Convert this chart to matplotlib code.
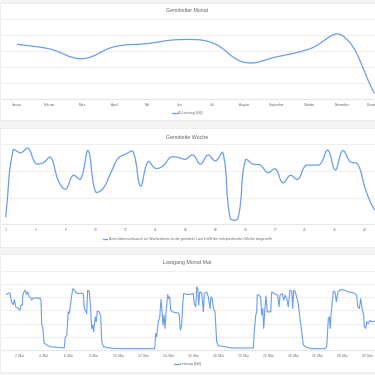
import matplotlib

matplotlib.use("Agg")
import matplotlib.pyplot as plt
import numpy as np
from matplotlib.lines import Line2D
from matplotlib.patches import PathPatch, Rectangle
from matplotlib.path import Path

plt.rcParams["font.family"] = ["Liberation Sans", "DejaVu Sans"]

LINE_COLOR = "#6a9ef0"
GRID_COLOR = "#ececec"
AXIS_COLOR = "#e2e6ee"
TEXT_COLOR = "#666666"

# --- Gemittelter Monat ---
monate = ["Januar", "Februar", "März", "April", "Mai", "Juni", "Juli",
          "August", "September", "Oktober", "November", "Dezember"]
monat_kw = [34.2, 31.3, 25.2, 32.7, 34.6, 37.1, 35.2, 22.9, 26.4, 31.3, 39.8, 3.6]

# --- Gemittelte Woche ---
wochen = list(range(1, 53))
woche_kw = [2.6, 27.7, 26.7, 28.4, 22.8, 23.0, 25.0, 16.5, 13.1, 18.3,
            16.9, 27.5, 12.2, 13.4, 19.0, 24.6, 26.2, 27.1, 14.3, 23.4,
            20.9, 21.8, 25.0, 25.0, 24.3, 25.9, 22.5, 25.9, 23.7, 26.7,
            2.2, 2.2, 24.0, 22.5, 22.1, 19.3, 20.7, 15.5, 18.3, 16.8,
            21.8, 22.1, 22.5, 27.7, 20.3, 27.5, 23.4, 22.5, 13.4, 6.6,
            3.5, 2.5]

# --- Lastgang Mai (Tag im Mai, Leistung) ---
mai_tag = [1.00, 1.06, 1.28, 1.42, 1.55, 1.63, 1.74, 1.95, 2.08, 2.16,
           2.27, 2.30, 2.43, 2.51, 2.62, 2.70, 2.83, 2.94, 3.02, 3.15,
           3.43, 3.61, 3.69, 3.77, 3.83, 3.91, 4.01, 4.23, 4.49, 5.03,
           5.56, 5.64, 5.72, 5.84, 5.96, 6.04, 6.12, 6.24, 6.34, 6.45,
           6.58, 6.77, 7.04, 7.17, 7.25, 7.39, 7.44, 7.52, 7.65, 7.76,
           7.84, 7.92, 8.00, 8.13, 8.21, 8.29, 8.45, 8.57, 8.65, 8.78,
           9.05, 9.58, 10.65, 12.87, 12.93, 12.98, 13.06, 13.19, 13.31, 13.41,
           13.49, 13.57, 13.65, 13.73, 13.84, 13.95, 14.03, 14.11, 14.19, 14.32,
           14.53, 14.80, 14.88, 14.96, 15.07, 15.15, 15.23, 15.47, 15.74, 16.00,
           16.08, 16.20, 16.28, 16.36, 16.44, 16.52, 16.68, 16.81, 16.89, 17.08,
           17.21, 17.35, 17.43, 17.53, 17.61, 17.75, 17.88, 18.01, 18.55, 19.09,
           20.82, 20.90, 21.02, 21.10, 21.14, 21.28, 21.42, 21.50, 21.58, 21.66,
           21.76, 21.84, 21.95, 22.08, 22.22, 22.30, 22.51, 22.78, 22.89, 22.97,
           23.15, 23.27, 23.37, 23.51, 23.63, 23.77, 23.91, 23.99, 24.07, 24.17,
           24.31, 24.44, 24.57, 24.71, 24.84, 25.11, 25.51, 26.58, 26.72, 26.85,
           26.93, 27.01, 27.06, 27.17, 27.25, 27.39, 27.49, 27.57, 27.65, 27.92,
           28.19, 28.45, 28.73, 28.99, 29.13, 29.21, 29.34, 29.45, 29.58, 29.69,
           29.74, 29.85, 29.93, 30.06, 30.20, 30.33, 30.60, 31.00]
mai_kw = [41.9, 42.6, 43.0, 35.6, 34.3, 38.0, 32.6, 31.3, 30.0, 33.8,
          33.8, 40.8, 44.4, 45.1, 41.9, 43.8, 40.1, 39.3, 37.6, 39.3,
          39.3, 38.8, 39.3, 37.6, 18.8, 17.5, 5.5, 3.8, 2.5, 2.0,
          1.7, 1.5, 10.0, 10.8, 28.8, 27.5, 32.6, 41.3, 46.4, 45.1,
          43.4, 42.6, 42.8, 42.3, 31.3, 28.8, 27.5, 45.1, 44.4, 31.3,
          16.3, 18.8, 13.8, 25.0, 21.3, 29.3, 28.8, 25.0, 6.3, 2.5,
          1.9, 1.2, 1.0, 1.0, 3.8, 12.5, 10.0, 21.3, 25.0, 38.3,
          30.0, 18.8, 26.3, 16.3, 31.3, 41.9, 38.8, 40.1, 30.0, 28.8,
          28.3, 28.0, 26.3, 15.0, 18.8, 33.8, 42.6, 42.0, 41.9, 42.6,
          35.0, 32.6, 47.6, 46.4, 33.8, 43.8, 43.4, 28.8, 42.6, 43.8,
          40.1, 31.3, 40.1, 38.8, 31.3, 28.8, 6.3, 3.3, 2.5, 1.5,
          1.5, 13.8, 26.3, 28.8, 41.9, 41.3, 40.0, 26.3, 31.3, 16.3,
          31.3, 40.8, 28.8, 28.8, 28.8, 43.8, 42.6, 41.3, 32.6, 41.3,
          42.6, 37.6, 41.3, 38.8, 32.6, 45.1, 44.4, 31.3, 45.1, 44.4,
          40.0, 35.0, 23.8, 13.8, 3.8, 1.9, 1.0, 1.0, 2.5, 23.8,
          25.0, 16.3, 26.3, 36.3, 44.4, 43.8, 36.3, 41.3, 44.4, 45.7,
          45.0, 43.8, 43.4, 42.6, 41.3, 32.6, 31.3, 38.8, 30.0, 26.3,
          17.5, 16.3, 21.3, 20.0, 22.5, 21.3, 21.8, 21.5]
mai_ticks = list(range(2, 31, 2))
mai_labels = [f"{d}. Mai" for d in mai_ticks]

W = H = 375.0


def rect(left_px, top_px, right_px, bottom_px):
    return [left_px / W, 1 - bottom_px / H, (right_px - left_px) / W, (bottom_px - top_px) / H]


def smooth_path(ax, xs, ys, tension=0.4):
    # bezier like Chart.js line tension, computed in display space
    pts = ax.transData.transform(np.column_stack([xs, ys]))
    n = len(pts)
    cp_in, cp_out = [], []
    for i in range(n):
        prev = pts[max(i - 1, 0)]
        cur = pts[i]
        nxt = pts[min(i + 1, n - 1)]
        d01 = np.hypot(*(cur - prev))
        d12 = np.hypot(*(nxt - cur))
        tot = d01 + d12
        s01 = d01 / tot if tot else 0.0
        s12 = d12 / tot if tot else 0.0
        cp_in.append(cur - tension * s01 * (nxt - prev))
        cp_out.append(cur + tension * s12 * (nxt - prev))
    verts = [pts[0]]
    codes = [Path.MOVETO]
    for i in range(n - 1):
        verts += [cp_out[i], cp_in[i + 1], pts[i + 1]]
        codes += [Path.CURVE4] * 3
    verts = ax.transData.inverted().transform(np.array(verts))
    return Path(verts, codes)


def style_axes(ax, ymax, step):
    ax.set_facecolor("none")
    for s in ["top", "right", "left"]:
        ax.spines[s].set_visible(False)
    ax.spines["bottom"].set_color(AXIS_COLOR)
    ax.spines["bottom"].set_linewidth(0.8)
    ax.set_ylim(0, ymax)
    ax.set_yticks(np.arange(step, ymax + 0.01, step))
    ax.yaxis.grid(True, color=GRID_COLOR, linewidth=0.6)
    ax.set_axisbelow(True)
    ax.tick_params(axis="y", left=False, labelleft=False)
    ax.tick_params(axis="x", length=0, pad=2.6, labelsize=2.3, labelcolor=TEXT_COLOR)


def legend(ax, label, y_px):
    h = Line2D([], [], color=LINE_COLOR, linewidth=0.9)
    ax.legend([h], [label], loc="center", bbox_to_anchor=(187.5 / W, 1 - y_px / H),
              bbox_transform=fig.transFigure, frameon=False, fontsize=2.4,
              handlelength=1.3, handletextpad=0.4, labelcolor=TEXT_COLOR)


fig = plt.figure(figsize=(3.75, 3.75), dpi=100)
fig.patch.set_facecolor("#f4f4f4")

# white cards behind the axes
for top, bottom in [(3, 119.5), (128, 246.5), (254, 372)]:
    fig.add_artist(Rectangle((0, 1 - bottom / H), 1, (bottom - top) / H,
                             transform=fig.transFigure, facecolor="white",
                             edgecolor="#e9e9e9", linewidth=0.5, zorder=-5))

# Panel 1
ax1 = fig.add_axes(rect(2, 19, 375, 99))
style_axes(ax1, 50, 10)
x1 = np.arange(len(monate))
ax1.set_xlim(-15 / 32.5, -15 / 32.5 + 373 / 32.5)
ax1.set_xticks(x1)
ax1.set_xticklabels(monate)
ax1.add_patch(PathPatch(smooth_path(ax1, x1, monat_kw), fill=False,
                        edgecolor=LINE_COLOR, linewidth=0.9))
fig.text(187.5 / W, 1 - 11 / H, "Gemittelter Monat", ha="center", va="center",
         fontsize=3.8, color=TEXT_COLOR)
legend(ax1, "Ø-Leistung [kW]", 113)

# Panel 2
ax2 = fig.add_axes(rect(2, 144, 375, 224.3))
style_axes(ax2, 30, 10)
px_w = 7.49
ax2.set_xlim(1 - 3.7 / px_w, 1 - 3.7 / px_w + 373 / px_w)
ax2.set_xticks(wochen[::4])
ax2.set_xticklabels([str(w) for w in wochen[::4]])
ax2.add_patch(PathPatch(smooth_path(ax2, wochen, woche_kw), fill=False,
                        edgecolor=LINE_COLOR, linewidth=0.9))
fig.text(187.5 / W, 1 - 137.3 / H, "Gemittelte Woche", ha="center", va="center",
         fontsize=3.8, color=TEXT_COLOR)
legend(ax2, "Beim Jahresverbrauch auf Wochenbasis ist die gemittelte Last in kW "
            "der entsprechenden Woche dargestellt.", 239)

# Panel 3
ax3 = fig.add_axes(rect(2, 270.5, 375, 350))
style_axes(ax3, 60, 10)
px_d = 12.45
ax3.set_xlim(1 - 4.5 / px_d, 1 - 4.5 / px_d + 373 / px_d)
ax3.set_xticks(mai_ticks)
ax3.set_xticklabels(mai_labels)
ax3.plot(mai_tag, mai_kw, color=LINE_COLOR, linewidth=0.8)
fig.text(187.5 / W, 1 - 262.3 / H, "Lastgang Monat Mai", ha="center", va="center",
         fontsize=3.8, color=TEXT_COLOR)
legend(ax3, "Leistung [kW]", 364.3)

fig.savefig("out.png", dpi=100)
